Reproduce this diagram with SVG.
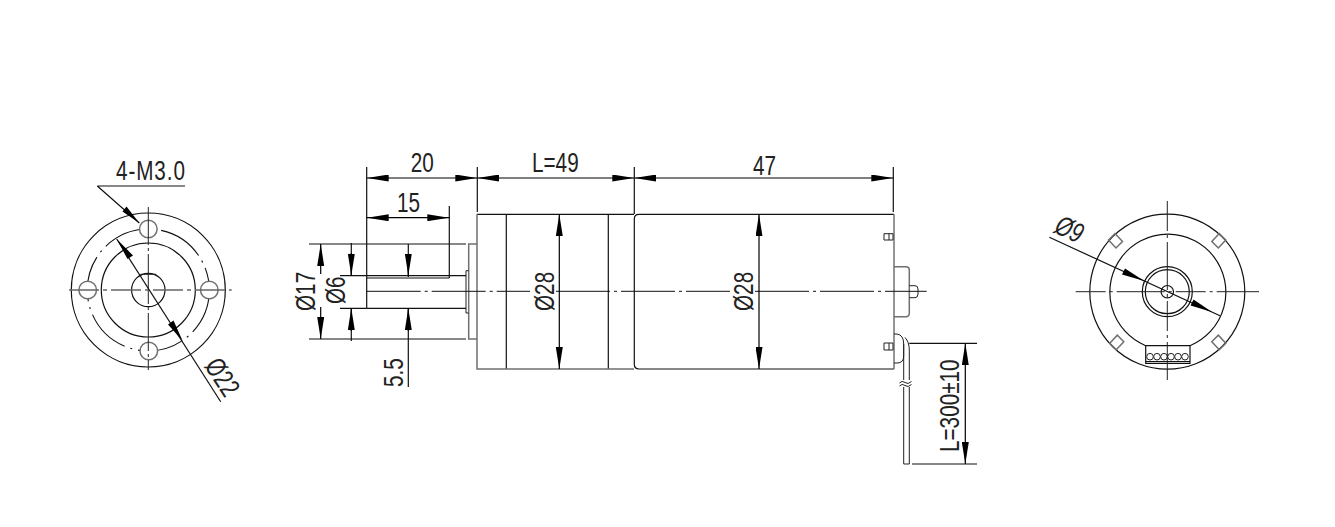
<svg xmlns="http://www.w3.org/2000/svg" width="1335" height="527" viewBox="0 0 1335 527">
<defs>
<marker id="a" viewBox="0 0 22 7" refX="22" refY="3.5" markerWidth="22" markerHeight="7" markerUnits="userSpaceOnUse" orient="auto-start-reverse"><path d="M22 3.500L0 0V7Z" fill="#000"/></marker>
</defs>
<style>
.l{fill:none;stroke:#111;stroke-width:1.2}
.t{fill:none;stroke:#222;stroke-width:1}
.g{fill:none;stroke:#707070;stroke-width:1.5}
.c{fill:none;stroke:#111;stroke-width:1;stroke-dasharray:54 4 3 4}
.k{fill:none;stroke:#111;stroke-width:1.100;stroke-dasharray:46 6 2 6}
.d{fill:none;stroke:#000;stroke-width:1.2;marker-start:url(#a);marker-end:url(#a)}
.e{fill:none;stroke:#000;stroke-width:1.2;marker-end:url(#a)}
text{font-family:"Liberation Sans",Arial,sans-serif;font-size:28px;fill:#222}
</style>
<rect width="1335" height="527" fill="#fff"/>
<g id="front-view">
<circle class="l" cx="148.300" cy="290" r="77"/>
<circle class="k" cx="148.300" cy="290" r="61"/>
<circle class="l" cx="148.300" cy="290" r="47"/>
<circle class="l" cx="148.300" cy="290" r="16.700"/>
<path class="t" d="M140.700 276V274.300H156V276"/>
<circle cx="148.300" cy="229" r="8.800" fill="#fff" stroke="#707070" stroke-width="1.500"/>
<circle cx="148.800" cy="351" r="8.800" fill="#fff" stroke="#707070" stroke-width="1.500"/>
<circle cx="87.700" cy="290" r="8.800" fill="#fff" stroke="#707070" stroke-width="1.500"/>
<circle cx="209.300" cy="290" r="8.800" fill="#fff" stroke="#707070" stroke-width="1.500"/>
<path class="t" d="M148.300 207V370" stroke-dasharray="38 3 3 3 50 3 3 3"/>
<path d="M69 290H231.700" fill="none" stroke="#666" stroke-width="1.300" stroke-dasharray="30 4 4 4"/>
<text transform="translate(116 180) scale(.74 1)" letter-spacing="1.200">4-M3.0</text>
<text transform="translate(203.700 365.700) rotate(57) scale(.74 1)">Ø22</text>
</g>
<g id="gearbox">
<path class="l" d="M477 214.300H634M506.300 214.300V369M608.300 214.300V369"/>
<path class="g" d="M634 369H477V214.300M477 244H468.700V339H477"/>
<path class="t" d="M468.700 270.700H466V313H468.700"/>
</g>
<g id="shaft">
<path class="l" d="M366.700 278H449.300M366.700 308.300H466M447 275.600H466"/>
</g>
<g id="motor">
<path class="l" d="M639 214.300H894M639 369H894M639 214.300Q634.300 214.300 634.300 219V364.300Q634.300 369 639 369"/>
<path class="g" d="M894 214.300V369"/>
<path class="t" d="M884 233.700H893V240H884ZM889 233.700V240M884 343H893V350H884ZM889 343V350"/>
<path class="g" d="M894 266.700H906Q909.300 266.700 909.300 270V313Q909.300 316.700 906 316.700H894" stroke-width="1.200"/>
<path class="t" d="M909.300 285.700H915Q918 285.700 918 289V294Q918 297.700 915 297.700H909.300"/>
</g>
<g id="cable">
<path class="t" d="M894 334H897Q903.700 335 903.700 344V356Q903.700 363 897 363H894"/>
<path class="t" d="M905 337.500Q909.300 342 909.300 350V464H903.700V344"/>
<rect x="899" y="380" width="13" height="7" fill="#fff"/>
<path class="t" d="M899.500 383Q902 380 905 382.500T911.500 381.500M899.500 386Q902 383 905 385.500T911.500 384.500"/>
</g>
<g id="rear-view">
<circle class="l" cx="1167.300" cy="291.700" r="77.500" stroke-width="1.700"/>
<path class="l" d="M1190 345.700A58 58 0 1 0 1145.700 345.700"/>
<circle class="l" cx="1167.300" cy="291.700" r="25"/>
<circle class="l" cx="1167.300" cy="291.700" r="22"/>
<circle class="l" cx="1167.300" cy="291.700" r="6.200"/>
<path class="l" d="M1145.700 345.700H1190V363.300H1145.700ZM1145.700 361.500H1190"/>
<g class="t"><circle cx="1150" cy="356.700" r="3.300"/><circle cx="1157" cy="356.700" r="3.300"/><circle cx="1164" cy="356.700" r="3.300"/><circle cx="1171" cy="356.700" r="3.300"/><circle cx="1178" cy="356.700" r="3.300"/><circle cx="1185" cy="356.700" r="3.300"/></g>
<path class="g" stroke-width="1" d="M1108.500 240l6.500 -6.500l7.500 8l-6.500 6.500ZM1225.800 240l-6.500 -6.500l-7.500 8l6.500 6.500ZM1109.800 343.200l6.500 6.500l7.500 -8l-6.500 -6.500ZM1225.800 343.200l-6.500 6.500l-7.500 -8l6.500 -6.500Z"/>
<path class="t" d="M1167.300 201V380M1075.700 291.700H1259" stroke-dasharray="30 4 3 4 48 4 3 4"/>
<text transform="translate(1053 232) rotate(25) scale(.74 1)" font-style="italic">Ø9</text>
</g>
<g id="connectors">
<path class="c" d="M366.700 291.300H530M556 291.300H730M755 291.300H926.700"/>
<path class="l" d="M366.700 167V308.300M477.300 167V212M634.300 167V214M893.300 167V212M449.300 206V278M340 275.600H447M340 308.300H366.700M309 244H466M309 339H466M351.300 243V276M351.300 308V341M408.300 244V277M408.300 308V387M909.300 343.300H977M912 464H977"/>
<path class="d" d="M366.700 178H477.300"/>
<path class="d" d="M477.300 178H634.300"/>
<path class="d" d="M634.300 178H893.300"/>
<path class="d" d="M366.700 217.700H449.300"/>
<path class="e" d="M320.700 274V244"/>
<path class="e" d="M320.700 307V339"/>
<path class="e" d="M351.300 253V275.600"/>
<path class="e" d="M351.300 331V308.300"/>
<path class="e" d="M408.300 255V275.600"/>
<path class="e" d="M408.300 331V308.300"/>
<path class="d" d="M559.300 214.300V369"/>
<path class="d" d="M759 214.300V369"/>
<path class="d" d="M965.300 343.300V464"/>
<path class="l" d="M97.300 186H185M97.300 186L139.300 223"/>
<path d="M139.300 223L122.500 211.500L126.500 206.500Z" fill="#000"/>
<path class="l" d="M116.700 239L220.700 401.700"/>
<path d="M116.700 239L127.500 259L133 255.500ZM182.700 341L168 324.500L173.500 320.500Z" fill="#000"/>
<path class="l" d="M1049.300 237.300L1220 315.700"/>
<path d="M1144.300 281L1122 274.500L1125 268.500ZM1212 312L1190.500 305.500L1193.500 299.500Z" fill="#000"/>
<text transform="translate(410.700 172) scale(.74 1)">20</text>
<text transform="translate(397 212) scale(.74 1)">15</text>
<text transform="translate(532 172) scale(.74 1)">L=49</text>
<text transform="translate(753 175) scale(.74 1)">47</text>
<text transform="translate(315 311) rotate(-90) scale(.74 1)">Ø17</text>
<text transform="translate(345 304) rotate(-90) scale(.74 1)">Ø6</text>
<text transform="translate(403 387) rotate(-90) scale(.74 1)">5.5</text>
<text transform="translate(554 311) rotate(-90) scale(.74 1)">Ø28</text>
<text transform="translate(753 311) rotate(-90) scale(.74 1)">Ø28</text>
<text transform="translate(959 452) rotate(-90) scale(.74 1)">L=300±10</text>
</g>
</svg>
